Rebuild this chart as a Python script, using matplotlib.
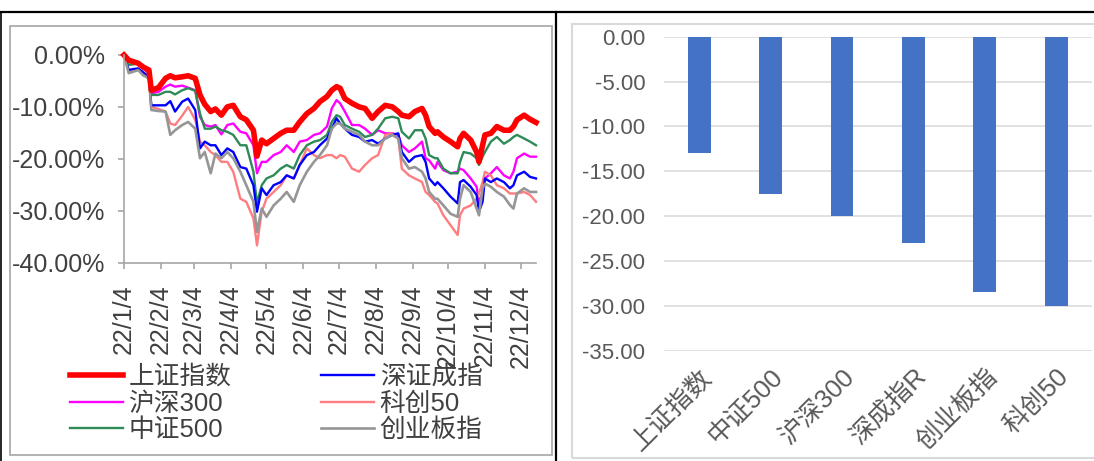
import pandas as pd
import matplotlib
matplotlib.use('Agg')
import matplotlib.pyplot as plt
from matplotlib.lines import Line2D
from matplotlib.patches import Rectangle

plt.rcParams['font.family'] = ['Liberation Sans', 'Noto Sans CJK SC']

# 日期（左图）
dates = ['2022-01-04', '2022-01-08', '2022-01-12', '2022-01-16', '2022-01-20', '2022-01-25', '2022-01-27',
         '2022-02-02', '2022-02-08', '2022-02-12', '2022-02-16', '2022-02-22', '2022-02-27', '2022-03-05',
         '2022-03-09', '2022-03-13', '2022-03-18', '2022-03-22', '2022-03-27',
         '2022-04-01', '2022-04-06', '2022-04-12', '2022-04-17', '2022-04-23', '2022-04-26', '2022-04-30',
         '2022-05-04', '2022-05-10', '2022-05-16', '2022-05-21', '2022-05-27', '2022-06-01', '2022-06-07',
         '2022-06-13', '2022-06-18', '2022-06-24',
         '2022-06-28', '2022-07-02', '2022-07-05', '2022-07-09', '2022-07-15', '2022-07-21', '2022-07-26',
         '2022-08-01', '2022-08-06', '2022-08-12', '2022-08-18', '2022-08-23', '2022-08-26', '2022-09-01',
         '2022-09-06', '2022-09-12', '2022-09-15', '2022-09-18', '2022-09-23',
         '2022-09-25', '2022-09-30', '2022-10-06', '2022-10-12', '2022-10-14', '2022-10-17', '2022-10-23',
         '2022-10-28', '2022-10-30', '2022-11-02', '2022-11-04', '2022-11-09', '2022-11-14', '2022-11-20',
         '2022-11-25', '2022-11-28', '2022-12-01', '2022-12-07', '2022-12-12', '2022-12-17']

# 累计涨跌幅 (%)
sh_index = [0, -1.0, -1.3, -1.6, -2.3, -2.9, -6.8, -6.3, -4.5, -4.0, -4.4, -4.2, -4.0, -4.5, -7.7, -9.5, -10.9, -10.4, -11.6,
            -10.0, -9.7, -11.9, -12.5, -14.5, -19.5, -16.4, -17.1, -16.1, -15.1, -14.5, -14.5, -12.9, -11.3, -10.3, -9.0, -8.0,
            -6.8, -6.1, -6.4, -8.4, -9.3, -10.0, -10.3, -12.2, -10.9, -9.7, -10.0, -10.9, -11.6, -11.9, -10.9, -10.3, -11.6, -13.8, -15.1,
            -14.8, -15.8, -16.7, -17.7, -16.1, -15.1, -16.4, -18.7, -20.6, -17.4, -15.4, -15.1, -13.8, -14.5, -14.5, -13.8, -12.5, -11.6, -12.4, -13.0]
hs300 = [0, -1.3, -1.4, -1.6, -2.6, -3.5, -7.4, -7.1, -6.1, -5.7, -6.1, -5.9, -6.3, -6.8, -11.9, -13.5, -13.8, -13.5, -15.3,
         -13.5, -13.2, -14.8, -15.1, -17.4, -22.8, -20.6, -20.6, -19.3, -18.7, -17.4, -18.7, -16.7, -16.4, -15.4, -15.1, -13.8,
         -10.3, -8.7, -9.3, -10.9, -13.5, -13.5, -14.2, -15.4, -14.5, -15.1, -15.1, -15.4, -17.4, -18.7, -18.0, -16.7, -19.9, -20.3, -21.9,
         -20.6, -22.2, -22.8, -22.5, -21.9, -22.2, -23.8, -25.4, -28.6, -26.4, -23.8, -22.8, -21.6, -23.2, -23.8, -22.5, -19.9, -19.0, -19.6, -19.6]
zz500 = [0, -1.9, -1.8, -1.6, -2.4, -2.9, -7.7, -7.7, -7.1, -7.1, -7.6, -6.8, -6.4, -6.9, -11.3, -14.2, -14.2, -13.8, -14.5,
         -14.8, -15.4, -17.4, -17.4, -22.5, -28.6, -25.1, -23.8, -23.2, -21.9, -21.2, -21.9, -19.3, -17.4, -16.7, -16.4, -15.4,
         -12.9, -11.6, -11.9, -13.5, -14.2, -14.8, -15.8, -15.4, -14.2, -12.2, -11.9, -12.2, -14.8, -16.1, -14.5, -14.5, -16.1, -19.3, -19.9,
         -19.9, -21.9, -22.8, -22.8, -20.6, -18.7, -19.0, -19.9, -21.2, -19.6, -18.7, -16.7, -15.8, -17.1, -16.4, -15.8, -15.4, -16.1, -16.7, -17.4]
szcz = [0, -2.9, -2.7, -2.6, -3.3, -4.2, -9.7, -9.7, -9.7, -8.9, -10.9, -9.0, -8.4, -10.6, -18.0, -16.7, -17.4, -17.4, -19.3,
        -18.0, -18.7, -21.6, -21.9, -25.1, -30.2, -25.7, -27.0, -25.1, -24.5, -23.2, -23.8, -21.2, -19.3, -18.7, -17.4, -16.1,
        -14.2, -12.2, -13.2, -14.2, -15.4, -15.8, -16.7, -16.4, -17.1, -16.1, -15.4, -15.1, -18.7, -20.6, -19.6, -19.3, -20.6, -23.8, -25.1,
        -24.5, -25.7, -27.3, -28.6, -24.5, -24.1, -25.4, -27.0, -30.2, -28.3, -23.8, -24.5, -23.8, -24.5, -25.7, -25.1, -23.2, -22.5, -23.5, -23.8]
kc50 = [0, -3.2, -3.1, -2.6, -3.5, -4.5, -10.0, -10.4, -10.9, -13.2, -13.5, -11.7, -10.0, -12.5, -16.7, -17.4, -18.7, -19.3, -20.6,
        -20.6, -22.5, -27.7, -28.3, -31.5, -36.7, -30.2, -27.7, -26.4, -25.1, -23.2, -23.8, -21.2, -18.0, -19.3, -19.9, -19.3,
        -19.3, -19.9, -19.3, -19.6, -21.9, -22.5, -21.2, -19.9, -19.3, -15.4, -15.1, -16.1, -21.9, -23.2, -23.8, -24.5, -26.4, -27.0, -28.3,
        -28.6, -30.9, -32.8, -34.7, -30.9, -29.6, -29.0, -27.7, -26.7, -24.5, -22.5, -23.2, -25.1, -25.7, -26.7, -26.7, -26.7, -26.4, -27.0, -28.3]
cyb = [0, -3.5, -3.2, -2.9, -3.9, -4.5, -10.6, -10.8, -10.9, -15.4, -14.5, -13.5, -12.9, -14.2, -19.9, -18.7, -22.8, -19.0, -19.9,
       -18.7, -19.9, -22.5, -25.1, -28.3, -34.1, -29.6, -31.2, -29.0, -27.7, -26.4, -28.3, -25.1, -22.5, -20.6, -19.3, -17.4,
       -14.2, -13.2, -13.2, -14.2, -14.8, -15.4, -16.7, -17.4, -17.4, -16.1, -15.4, -16.1, -19.9, -21.9, -21.6, -22.5, -23.8, -26.4, -27.7,
       -27.7, -29.0, -30.6, -31.2, -27.7, -25.1, -26.4, -29.6, -30.9, -25.7, -24.8, -25.4, -26.4, -27.3, -28.9, -29.6, -26.7, -25.7, -26.4, -26.4]

tick_dates = ['2022-01-04', '2022-02-04', '2022-03-04', '2022-04-04', '2022-05-04', '2022-06-04',
              '2022-07-04', '2022-08-04', '2022-09-04', '2022-10-04', '2022-11-04', '2022-12-04']
tick_labels = ['22/1/4', '22/2/4', '22/3/4', '22/4/4', '22/5/4', '22/6/4',
               '22/7/4', '22/8/4', '22/9/4', '22/10/4', '22/11/4', '22/12/4']

# 右图：区间涨跌幅
bar_names = ['上证指数', '中证500', '沪深300', '深成指R', '创业板指', '科创50']
bar_values = [-13.0, -17.5, -20.0, -23.0, -28.5, -30.0]

W, H = 1094, 461
fig = plt.figure(figsize=(W / 100, H / 100), dpi=100)
txt = '#404040'

# ---- 左图 ----
x = pd.to_datetime(dates)
ax = fig.add_axes([124 / W, 1 - 262.5 / H, 412 / W, 207.5 / H])
lines = {}
lines['沪深300'] = ax.plot(x, hs300, color='#FF00FF', lw=1.7, label='沪深300')[0]
lines['中证500'] = ax.plot(x, zz500, color='#2E8B57', lw=1.7, label='中证500')[0]
lines['科创50'] = ax.plot(x, kc50, color='#FF7C80', lw=1.7, label='科创50')[0]
lines['深证成指'] = ax.plot(x, szcz, color='#0000FF', lw=1.7, label='深证成指')[0]
lines['创业板指'] = ax.plot(x, cyb, color='#969696', lw=1.9, label='创业板指')[0]
lines['上证指数'] = ax.plot(x, sh_index, color='#FF0000', lw=4.0, label='上证指数')[0]
for l in lines.values():
    l.set_clip_on(False)

ax.set_ylim(-40, 0)
ax.set_xlim(pd.Timestamp('2022-01-04'), pd.Timestamp('2022-12-17'))
ax.set_yticks([0, -10, -20, -30, -40])
ax.set_yticklabels([f'{v:.2f}%' for v in [0, -10, -20, -30, -40]])
ax.set_xticks(pd.to_datetime(tick_dates))
ax.set_xticklabels(tick_labels, rotation=90)
for s in ['top', 'right']:
    ax.spines[s].set_visible(False)
for s in ['left', 'bottom']:
    ax.spines[s].set_color('#a6a6a6')
    ax.spines[s].set_linewidth(1.2)
ax.tick_params(axis='both', direction='out', length=4.5, width=1.2, color='#a6a6a6', colors=txt)
ax.tick_params(axis='y', labelsize=18, pad=9)
ax.tick_params(axis='x', labelsize=18, pad=11)

order = ['上证指数', '沪深300', '中证500', '深证成指', '科创50', '创业板指']
leg = fig.legend([lines[k] for k in order], order, loc='upper left', ncol=2,
                 bbox_to_anchor=(70 / W, 1 - 365 / H), bbox_transform=fig.transFigure,
                 frameon=False, fontsize=18.5, borderpad=0, borderaxespad=0,
                 handlelength=2.05, handletextpad=0.22, columnspacing=3.5, labelspacing=0.1)
for t in leg.get_texts():
    t.set_color(txt)

# ---- 右图 ----
ax2 = fig.add_axes([663.5 / W, 1 - 350.7 / H, 428.4 / W, 314 / H])
pos = list(range(len(bar_names)))
ax2.bar(pos, bar_values, width=0.32, color='#4472C4', zorder=3)
ax2.set_xlim(-0.5, len(bar_names) - 0.5)
ax2.set_ylim(-35, 0)
yt = [0, -5, -10, -15, -20, -25, -30, -35]
ax2.set_yticks(yt)
ax2.set_yticklabels([f'{v:.2f}' for v in yt])
ax2.grid(axis='y', color='#d9d9d9', lw=1.1, zorder=0)
for s in ax2.spines.values():
    s.set_visible(False)
ax2.tick_params(axis='y', length=0, labelsize=16, colors='#595959', pad=13)
ax2.set_xticks(pos)
ax2.set_xticklabels(bar_names, rotation=45, ha='right', va='top', rotation_mode='anchor',
                    fontsize=18.5, color='#595959')
ax2.tick_params(axis='x', length=0, pad=10)

# ---- 边框 ----
fig.add_artist(Rectangle((10 / W, 1 - 455 / H), 542 / W, 429 / H, transform=fig.transFigure,
                         fill=False, edgecolor='#a6a6a6', lw=1.2))
fig.add_artist(Rectangle((571.5 / W, 1 - 458 / H), 530 / W, 434 / H, transform=fig.transFigure,
                         fill=False, edgecolor='#d9d9d9', lw=1.5))
fig.add_artist(Line2D([0, 1], [1 - 12 / H, 1 - 12 / H], transform=fig.transFigure, color='black', lw=1.6))
fig.add_artist(Line2D([0.5 / W, 0.5 / W], [0, 1 - 12 / H], transform=fig.transFigure, color='black', lw=1.2))
fig.add_artist(Line2D([556 / W, 556 / W], [0, 1 - 12 / H], transform=fig.transFigure, color='black', lw=1.6))

fig.savefig('out.png', dpi=100)
